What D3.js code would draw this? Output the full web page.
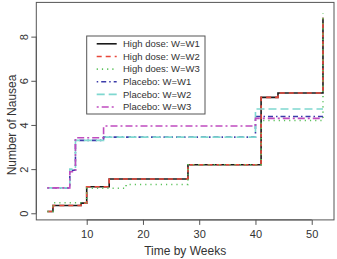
<!DOCTYPE html>
<html><head><meta charset="utf-8">
<script src="https://cdn.jsdelivr.net/npm/d3@7/dist/d3.min.js"></script>
<style>body{margin:0;background:#fff}svg{display:block}text{font-family:"Liberation Sans",Arial,sans-serif;fill:#333}</style>
</head><body><svg id="c" width="337" height="259"></svg>
<script>
const seriesNames = ["High dose: W=W1","High dose: W=W2","High does: W=W3","Placebo: W=W1","Placebo: W=W2","Placebo: W=W3"];
const hdW1Times = [3,4,9,10,14,28,41,44,52];
const hdW1Vals  = [0.08,0.35,0.46,1.2,1.55,2.2,5.25,5.45,8.85];
const hdW2Times = [3,4,9,10,14,28,41,44,52];
const hdW2Vals  = [0.08,0.35,0.46,1.2,1.55,2.2,5.25,5.45,8.85];
const hdW3Times = [3,4,10,17,28,41,52];
const hdW3Vals  = [0.08,0.48,1.13,1.3,2.2,4.2,9.05];
const plW1Times = [3,7,8,13,40,52];
const plW1Vals  = [1.15,1.95,3.3,3.45,4.38,4.38];
const plW2Times = [3,7,8,13,40,52];
const plW2Vals  = [1.15,2.0,3.3,3.45,4.72,4.72];
const plW3Times = [3,7,8,13,40,52];
const plW3Vals  = [1.15,1.88,3.42,3.95,4.3,4.3];
const xTicks = [10,20,30,40,50];
const yTicks = [0,2,4,6,8];

const allTimes=[hdW1Times,hdW2Times,hdW3Times,plW1Times,plW2Times,plW3Times];
const allVals=[hdW1Vals,hdW2Vals,hdW3Vals,plW1Vals,plW2Vals,plW3Vals];
const colors=["#1a1a1a","#e8473b","#5cc25c","#3c3caa","#7fd8d0","#c04cc0"];
const dashes=[null,"5,4","1.2,4","1.5,3,5,3","8,4","2,3,7,3"];

const svg=d3.select("#c");
const x=d3.scaleLinear().domain([1.04,53.96]).range([36.3,334]);
const y=d3.scaleLinear().domain([-0.3,9.55]).range([219.9,2.4]);

const line=d3.line().x(d=>x(d[0])).y(d=>y(d[1])).curve(d3.curveStepAfter);
allTimes.forEach((t,i)=>{
  const pts=t.map((v,j)=>[v,allVals[i][j]]);
  svg.append("path").attr("d",line(pts)).attr("fill","none")
    .attr("stroke",colors[i]).attr("stroke-width",1.6)
    .attr("stroke-dasharray",dashes[i]);
});

// box
svg.append("rect").attr("x",36.3).attr("y",2.4).attr("width",334-36.3).attr("height",219.9-2.4)
  .attr("fill","none").attr("stroke","#555").attr("stroke-width",1);

// x axis
const xa=svg.append("g").attr("transform","translate(0,219.9)")
  .call(d3.axisBottom(x).tickValues(xTicks).tickSize(5).tickPadding(5).tickFormat(d3.format("d")));
xa.select(".domain").attr("d",`M${x(10)},0H${x(50)}`).attr("stroke","#555");
xa.selectAll(".tick line").attr("stroke","#555");
xa.selectAll("text").attr("font-size",11).attr("fill","#333").attr("font-family","Liberation Sans, Arial, sans-serif");

// y axis
const ya=svg.append("g").attr("transform","translate(36.3,0)")
  .call(d3.axisLeft(y).tickValues(yTicks).tickSize(5).tickFormat(d3.format("d")));
ya.select(".domain").attr("d",`M0,${y(0)}V${y(8)}`).attr("stroke","#555");
ya.selectAll(".tick line").attr("stroke","#555");
ya.selectAll("text").attr("font-size",11).attr("fill","#333").attr("font-family","Liberation Sans, Arial, sans-serif")
  .attr("x",0).attr("dy",0).attr("text-anchor","middle")
  .attr("transform","translate(-8,0) rotate(-90)");

// titles
svg.append("text").attr("x",x(27.5)).attr("y",255).attr("text-anchor","middle").attr("font-size",12).text("Time by Weeks");
svg.append("text").attr("transform",`translate(16,${y(4)}) rotate(-90)`).attr("text-anchor","middle").attr("font-size",12).text("Number of Nausea");

// legend
const lg=svg.append("g");
lg.append("rect").attr("x",86.7).attr("y",36).attr("width",118.3).attr("height",78)
  .attr("fill","#fff").attr("stroke","#555").attr("stroke-width",1);
seriesNames.forEach((n,i)=>{
  const yy=43.8+i*12.65;
  lg.append("line").attr("x1",96.7).attr("x2",116.7).attr("y1",yy).attr("y2",yy)
    .attr("stroke",colors[i]).attr("stroke-width",1.6).attr("stroke-dasharray",dashes[i]);
  lg.append("text").attr("x",123).attr("y",yy).attr("dy","0.35em").attr("font-size",9.5).text(n);
});
</script></body></html>
